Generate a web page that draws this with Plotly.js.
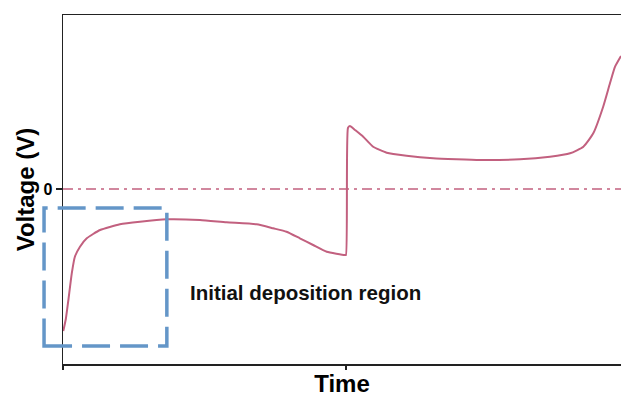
<!DOCTYPE html>
<html>
<head>
<meta charset="utf-8">
<script src="https://cdn.plot.ly/plotly-3.0.1.min.js"></script>
<style>html,body{margin:0;padding:0;background:#fff;}#chart{width:621px;height:397px;}</style>
</head>
<body>
<div id="chart"></div>
<script>
// Time (arbitrary units) and voltage (arbitrary units, 0 = reference line)
var timeVals = [0.001, 0.010, 0.019, 0.031, 0.042, 0.060, 0.084, 0.131, 0.201, 0.272, 0.366,
                0.484, 0.578, 0.684, 0.743, 0.790, 0.837, 0.884, 0.932, 0.996, 1.000,
                1.007, 1.014, 1.032, 1.061, 1.096, 1.144, 1.214, 1.308, 1.391, 1.473,
                1.615, 1.721, 1.792, 1.839, 1.874, 1.909, 1.933, 1.951, 1.972];
var voltVals = [-1.42, -1.30, -1.11, -0.843, -0.677, -0.577, -0.493, -0.41, -0.353, -0.327, -0.303,
                -0.31, -0.333, -0.353, -0.393, -0.427, -0.493, -0.56, -0.627, -0.66, -0.66,
                0.61, 0.63, 0.59, 0.523, 0.423, 0.363, 0.333, 0.307, 0.297, 0.29,
                0.297, 0.323, 0.357, 0.423, 0.557, 0.823, 1.057, 1.223, 1.33];
var zeroLineX = [0, 1.972];
var zeroLineY = [0, 0];
var yTickVals = [0];
var yTickText = ['0'];
var xTickVals = [0, 1];
var regionLabel = 'Initial deposition region';
// deposition-region box (time / voltage units)
var regionBox = {t0: -0.067, t1: 0.367, v0: -1.57, v1: -0.19};

var curveColor = '#c2607f';
var font = 'Liberation Sans, Arial, sans-serif';

var traces = [
  {x: zeroLineX, y: zeroLineY, mode: 'lines', hoverinfo: 'skip',
   line: {color: curveColor, width: 1.6, dash: '10px,5px,3px,5px'}},
  {x: timeVals, y: voltVals, mode: 'lines',
   line: {color: curveColor, width: 2, shape: 'spline', smoothing: 0.5}}
];

var xr = [0, 1.972], yr = [-1.75, 1.74];
function px(t){ return (t - xr[0]) / (xr[1] - xr[0]); }
function py(v){ return (v - yr[0]) / (yr[1] - yr[0]); }

var layout = {
  width: 621, height: 397,
  margin: {l: 63, r: 0, t: 15, b: 33},
  paper_bgcolor: '#fff', plot_bgcolor: '#fff',
  showlegend: false,
  font: {family: font, color: '#000'},
  xaxis: {
    range: xr, showgrid: false, zeroline: false,
    showline: true, linecolor: '#222', linewidth: 1.5, mirror: true,
    ticks: 'outside', ticklen: 4, tickwidth: 1.2, tickcolor: '#222',
    tickvals: xTickVals, showticklabels: false,
    title: {text: '<b>Time</b>', font: {size: 24, family: font, color: '#000'}, standoff: 8}
  },
  yaxis: {
    range: yr, showgrid: false, zeroline: false,
    showline: true, linecolor: '#222', linewidth: 1.5, mirror: false,
    ticks: 'outside', ticklen: 6, tickwidth: 1.2, tickcolor: '#222',
    tickvals: yTickVals, ticktext: yTickText,
    tickfont: {size: 16, family: font, color: '#000', weight: 'bold'},
    title: {text: '<b>Voltage (V)</b>', font: {size: 24, family: font, color: '#000'}, standoff: 2}
  },
  shapes: [{
    type: 'rect', xref: 'paper', yref: 'paper',
    x0: px(regionBox.t0), x1: px(regionBox.t1), y0: py(regionBox.v0), y1: py(regionBox.v1),
    line: {color: '#6496c8', width: 3.5, dash: '28px,10px'}, fillcolor: 'rgba(0,0,0,0)'
  }],
  annotations: [{
    x: 0.44, y: -1.03, xref: 'x', yref: 'y', xanchor: 'left', yanchor: 'middle',
    text: '<b>' + regionLabel + '</b>', showarrow: false,
    font: {size: 20.5, family: font, color: '#111'}
  }]
};

Plotly.newPlot('chart', traces, layout, {displayModeBar: false, staticPlot: true});
</script>
</body>
</html>
